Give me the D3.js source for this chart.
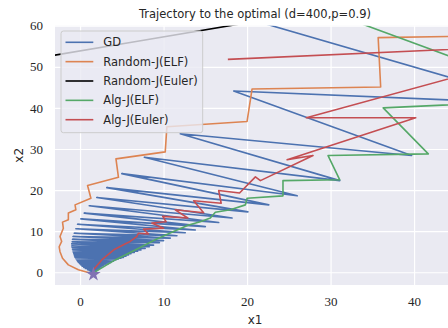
<!DOCTYPE html>
<html>
<head>
<meta charset="utf-8">
<script src="https://cdn.jsdelivr.net/npm/d3@7"></script>
<style>
  html, body { margin: 0; padding: 0; background: #fff; }
  svg { display: block; }
</style>
</head>
<body>
<svg id="chart" width="448" height="328"></svg>
<script>
// values
const xTicks = [0, 10, 20, 30, 40];
const yTicks = [0, 10, 20, 30, 40, 50, 60];
const optimum = [1.6, -0.5];

const seriesNames = ['GD', 'Random-J(ELF)', 'Random-J(Euler)', 'Alg-J(ELF)', 'Alg-J(Euler)'];
const seriesColors = ['#4C72B0', '#DD8452', '#000000', '#55A868', '#C44E52'];

// GD: alternates between a left and a right end
const gdX1 = [16.0, 55.2, 18.4, 39.7, 12.0, 31.1, 7.7, 26.0, 5.0, 22.6, 3.2, 20.1, 2.0, 18.2,
  1.1, 16.6, 0.5, 15.0, 0.1, 13.8, -0.3, 12.6, -0.5, 11.6, -0.7, 10.8, -0.85, 10.0, -0.9, 9.5,
  -0.95, 8.8, -1.0, 8.3, -1.0, 7.8, -0.95, 7.3, -0.9, 6.9, -0.85, 6.5, -0.8, 6.1, -0.75, 5.8,
  -0.7, 5.5, -0.65, 5.2, -0.6, 4.9, -0.5, 4.6, -0.4, 4.3, -0.3, 4.0, -0.2, 3.7, -0.05, 3.4,
  0.1, 3.1, 0.25, 2.8, 0.45, 2.6, 0.65, 2.4, 0.9, 2.2, 1.1, 2.0, 1.3, 1.8, 1.6];
const gdX2 = [64.1, 41.0, 44.1, 28.4, 33.7, 22.3, 28.0, 18.6, 24.0, 16.4, 20.6, 14.7, 18.2, 13.2,
  16.2, 12.1, 14.4, 11.1, 13.0, 10.3, 11.7, 9.6, 10.6, 8.9, 9.5, 8.3, 8.7, 7.7, 8.0, 7.2,
  7.4, 6.6, 6.9, 6.2, 6.4, 5.8, 6.0, 5.4, 5.6, 5.1, 5.2, 4.8, 4.8, 4.5, 4.5, 4.2,
  4.2, 3.9, 3.9, 3.6, 3.6, 3.4, 3.3, 3.2, 3.0, 3.0, 2.7, 2.7, 2.4, 2.4, 2.1, 2.1,
  1.8, 1.9, 1.5, 1.6, 1.2, 1.3, 0.9, 1.0, 0.6, 0.7, 0.4, 0.4, 0.2, 0.2, -0.5];

const randElfX1 = [55.0, 35.7, 36.0, 20.6, 20.0, 10.4, 10.2, 4.3, 4.6, 0.9, 1.3, -0.6, -0.5, -1.4,
  -1.4, -2.1, -2.0, -2.4, -2.2, -2.5, -2.4, -2.1, -1.4, -0.2, 1.2, 1.6];
const randElfX2 = [57.7, 57.1, 45.1, 44.6, 36.7, 35.4, 29.3, 27.6, 23.1, 21.1, 18.0, 16.4, 15.2, 14.4,
  12.8, 12.2, 10.7, 8.7, 7.5, 6.2, 5.0, 3.4, 1.8, 0.6, -0.2, -0.5];

const randEulerX1 = [-6.0, 6.0, 22.0];
const randEulerX2 = [51.8, 55.9, 61.4];

const algElfX1 = [22.4, 58.3, 36.3, 41.7, 29.7, 31.1, 24.3, 24.3, 20.0, 19.8, 18.0, 16.2, 15.6,
  14.4, 13.0, 11.2, 9.0, 6.6, 4.2, 1.8, 1.6];
const algElfX2 = [68.9, 42.1, 40.0, 28.8, 28.4, 22.5, 22.3, 18.6, 18.0, 16.4, 15.2, 14.6, 13.2,
  12.3, 11.5, 9.9, 7.9, 5.4, 3.0, 0.1, -0.5];

const algEulerX1 = [17.7, 59.5, 27.1, 40.2, 24.8, 27.9, 21.6, 21.0, 19.1, 16.6, 16.9, 13.6, 14.8,
  11.4, 12.9, 9.9, 10.3, 8.6, 10.0, 7.6, 8.2, 7.0, 6.8, 6.0, 5.2, 4.0, 2.6, 1.6, 1.6];
const algEulerX2 = [51.8, 55.6, 37.6, 37.6, 27.4, 28.4, 22.3, 23.2, 19.3, 19.9, 16.8, 17.4, 14.5,
  15.2, 13.2, 13.6, 12.3, 12.0, 10.7, 10.5, 9.3, 9.5, 8.7, 7.5, 6.7, 5.4, 3.0, 0.6, -0.5];

const seriesX1 = [gdX1, randElfX1, randEulerX1, algElfX1, algEulerX1];
const seriesX2 = [gdX2, randElfX2, randEulerX2, algElfX2, algEulerX2];

const svg = d3.select('#chart');
const plotLeft = 55, plotRight = 455, plotTop = 25.7, plotBottom = 285;

const x = d3.scaleLinear().domain([-3, 44.9]).range([plotLeft, plotRight]);
const y = d3.scaleLinear().domain([-3.1, 60]).range([plotBottom, plotTop]);

svg.append('defs').append('clipPath').attr('id', 'plot-clip')
  .append('rect')
  .attr('x', plotLeft).attr('y', plotTop)
  .attr('width', plotRight - plotLeft).attr('height', plotBottom - plotTop);

// Axes background
svg.append('rect')
  .attr('x', plotLeft).attr('y', plotTop)
  .attr('width', plotRight - plotLeft).attr('height', plotBottom - plotTop)
  .attr('fill', '#EAEAF2');

// Grid + tick labels
const xAxis = svg.append('g')
  .attr('transform', `translate(0,${plotBottom})`)
  .call(d3.axisBottom(x).tickValues(xTicks).tickSize(-(plotBottom - plotTop)).tickPadding(12).tickFormat(d3.format('d')));
const yAxis = svg.append('g')
  .attr('transform', `translate(${plotLeft},0)`)
  .call(d3.axisLeft(y).tickValues(yTicks).tickSize(-(plotRight - plotLeft)).tickPadding(12).tickFormat(d3.format('d')));

[xAxis, yAxis].forEach(a => {
  a.select('.domain').remove();
  a.selectAll('line').attr('stroke', '#ffffff').attr('stroke-width', 1.2);
  a.selectAll('text')
    .attr('fill', '#262626')
    .style('font-family', '"Liberation Serif", "DejaVu Serif", serif')
    .style('font-size', '13px');
});

// Trajectories
const plot = svg.append('g').attr('clip-path', 'url(#plot-clip)');
const line = d3.line().x(d => x(d[0])).y(d => y(d[1]));

seriesNames.forEach((name, i) => {
  const pts = seriesX1[i].map((v, j) => [v, seriesX2[i][j]]);
  plot.append('path')
    .datum(pts)
    .attr('d', line)
    .attr('fill', 'none')
    .attr('stroke', seriesColors[i])
    .attr('stroke-width', 1.6)
    .attr('stroke-linejoin', 'round');
});

// Optimum marker
plot.append('path')
  .attr('d', d3.symbol().type(d3.symbolStar).size(66)())
  .attr('transform', `translate(${x(optimum[0])},${y(optimum[1])})`)
  .attr('fill', '#8172B3');

// Title and labels
svg.append('text')
  .attr('x', (plotLeft + plotRight) / 2).attr('y', 18)
  .attr('text-anchor', 'middle')
  .style('font-family', '"DejaVu Sans", sans-serif')
  .style('font-size', '11.5px')
  .attr('fill', '#262626')
  .text('Trajectory to the optimal (d=400,p=0.9)');

svg.append('text')
  .attr('x', (plotLeft + plotRight) / 2).attr('y', 324)
  .attr('text-anchor', 'middle')
  .style('font-family', '"DejaVu Sans", sans-serif')
  .style('font-size', '12px')
  .attr('fill', '#262626')
  .text('x1');

svg.append('text')
  .attr('transform', `translate(23,${(plotTop + plotBottom) / 2}) rotate(-90)`)
  .attr('text-anchor', 'middle')
  .style('font-family', '"DejaVu Sans", sans-serif')
  .style('font-size', '12px')
  .attr('fill', '#262626')
  .text('x2');

// Legend
const legend = svg.append('g');
legend.append('rect')
  .attr('x', 61).attr('y', 31)
  .attr('width', 141.7).attr('height', 101.7)
  .attr('rx', 2.5)
  .attr('fill', '#EAEAF2').attr('fill-opacity', 0.8)
  .attr('stroke', '#cccccc').attr('stroke-width', 1);

const rows = legend.selectAll('g.row')
  .data(seriesNames)
  .join('g')
  .attr('class', 'row')
  .attr('transform', (d, i) => `translate(0,${42.3 + i * 19.35})`);

rows.append('line')
  .attr('x1', 65.5).attr('x2', 93.3)
  .attr('stroke', (d, i) => seriesColors[i])
  .attr('stroke-width', 1.6);

rows.append('text')
  .attr('x', 103.3).attr('dy', '0.35em')
  .style('font-family', '"DejaVu Sans", sans-serif')
  .style('font-size', '11.5px')
  .attr('fill', '#262626')
  .text(d => d);
</script>
</body>
</html>
